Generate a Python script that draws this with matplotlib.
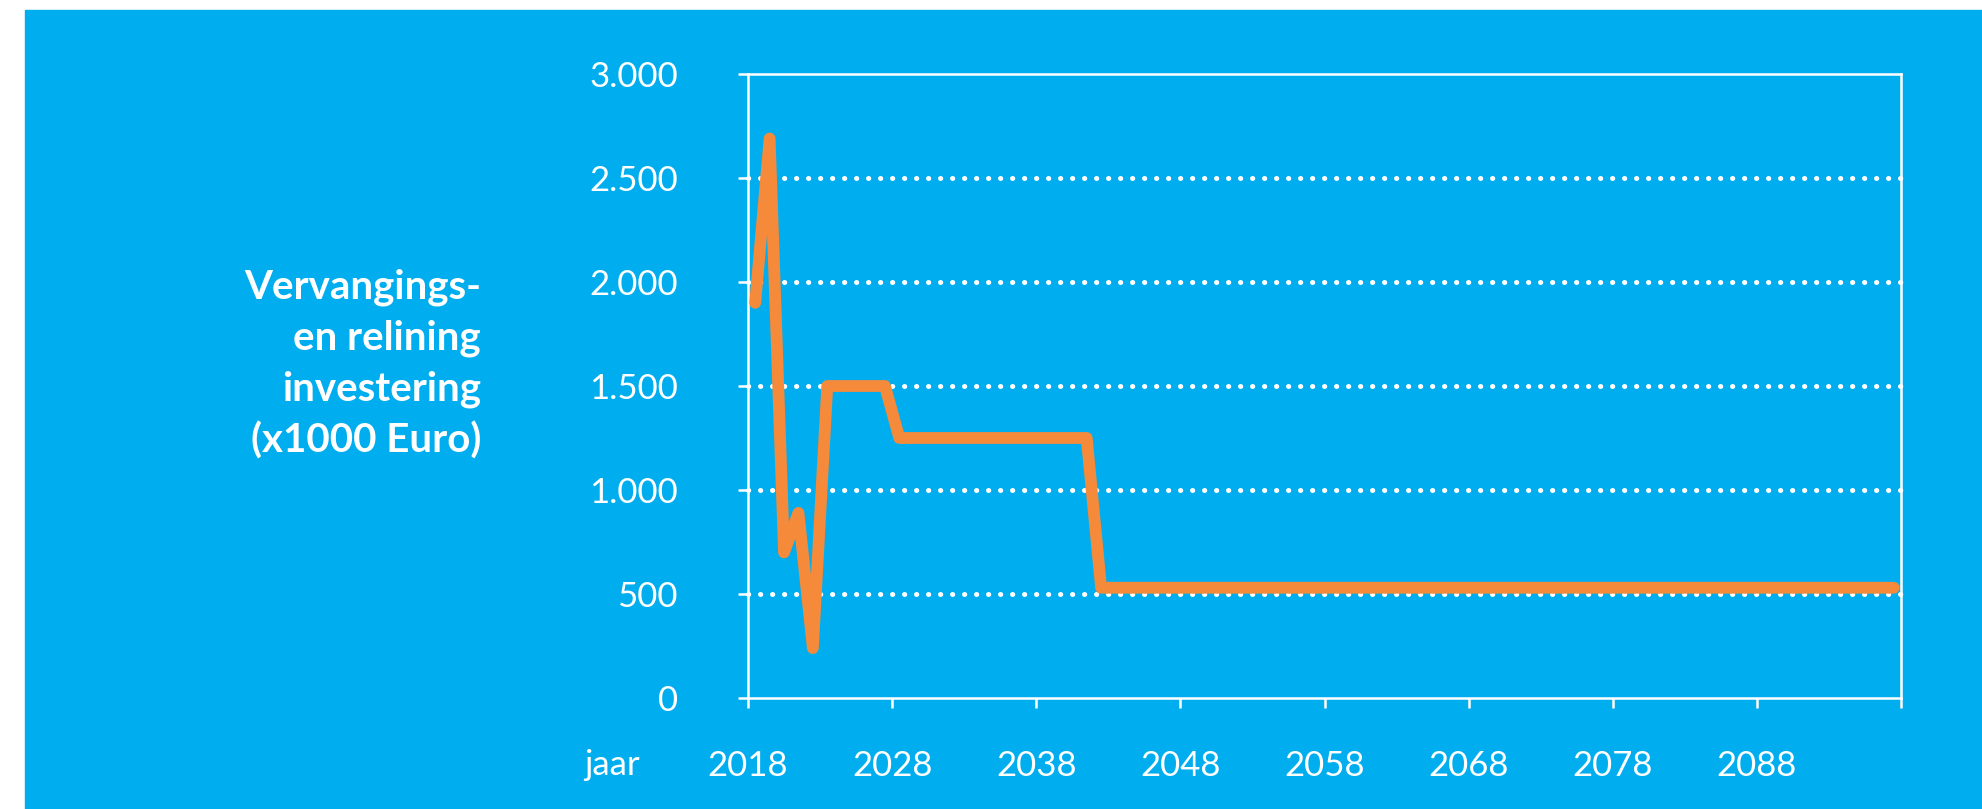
import matplotlib.pyplot as plt
plt.switch_backend('agg')
from matplotlib.patches import Rectangle

# Vervangings- en relining investering per jaar (x1000 Euro)
years = list(range(2018, 2098))
values = ([1900, 2690, 700, 890, 240]
          + [1500] * 5      # 2023-2027
          + [1250] * 14     # 2028-2041
          + [530] * 56)     # 2042-2097

tick_years = [2018, 2028, 2038, 2048, 2058, 2068, 2078, 2088]
ytick_vals = [0, 500, 1000, 1500, 2000, 2500, 3000]
ytick_labels = ['0', '500', '1.000', '1.500', '2.000', '2.500', '3.000']

blue = '#00AEEF'
orange = '#F58A3B'
white = 'white'

plt.rcParams['font.family'] = ['Lato', 'DejaVu Sans']

fig = plt.figure(figsize=(19.83, 8.09), dpi=100, facecolor='white')
fig.patches.append(Rectangle((25 / 1983, 0), 1 - 25 / 1983, 1 - 10 / 809,
                             transform=fig.transFigure, color=blue, zorder=-5))

ax = fig.add_axes([748 / 1983, 1 - 698 / 809, (1901 - 748) / 1983, (698 - 74) / 809])
ax.set_facecolor('none')

# gridlines (dotted, round dots)
for v in ytick_vals[1:-1]:
    ax.axhline(v, color=white, lw=3.6, dashes=(0.05, 2.35), dash_capstyle='round',
               zorder=1, clip_on=False)

ax.plot(years, values, color=orange, lw=8.5, solid_joinstyle='round',
        solid_capstyle='round', zorder=3)

ax.set_xlim(2017.5, 2097.5)
ax.set_ylim(0, 3000)

ax.set_xticks([y - 0.5 for y in tick_years] + [2097.5])
ax.set_xticklabels([str(y) for y in tick_years] + [''])
ax.set_yticks(ytick_vals)
ax.set_yticklabels(ytick_labels)

for s in ax.spines.values():
    s.set_color(white)
    s.set_linewidth(1.8)
    s.set_zorder(2)

ax.tick_params(axis='x', colors=white, length=7.5, width=1.8, direction='out',
               pad=30, labelsize=25)
ax.tick_params(axis='y', colors=white, length=7.5, width=1.8, direction='out',
               pad=43, labelsize=25)

fig.text(612 / 1983, 1 - 775 / 809, 'jaar', color=white, fontsize=25,
         ha='center', va='baseline')

fig.text(481 / 1983, 1 - 364 / 809,
         'Vervangings-\nen relining\ninvestering\n(x1000 Euro)',
         color=white, fontsize=29, fontweight='bold', ha='right', va='center',
         multialignment='right', linespacing=1.45)

plt.savefig('out.png', dpi=100, facecolor=fig.get_facecolor())
